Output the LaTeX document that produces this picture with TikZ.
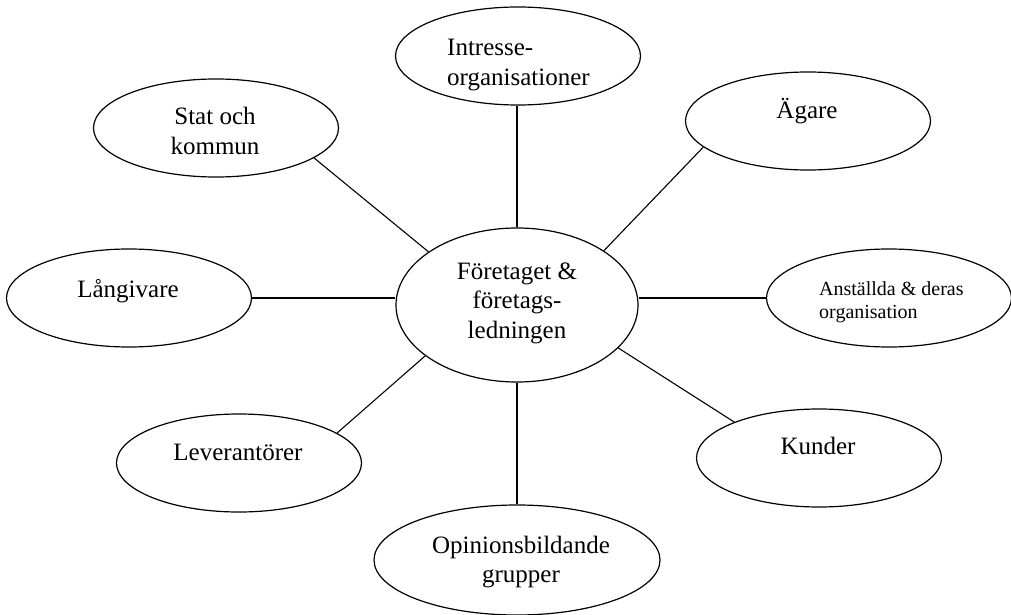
\documentclass[tikz,border=0pt]{standalone}
\usepackage{fontspec}
\setmainfont{Liberation Serif}
\usetikzlibrary{shapes.geometric}
\begin{document}
\begin{tikzpicture}[x=1pt,y=-1pt,
  oval/.style={ellipse,draw,line width=1.2pt,inner sep=0pt,
    minimum width=245pt,minimum height=98pt},
  hub/.style={ellipse,draw,line width=1.2pt,inner sep=0pt,
    minimum width=242pt,minimum height=154pt},
  txt/.style={inner sep=0pt,font=\fontsize{25}{29.5}\selectfont,align=center},
  small/.style={inner sep=0pt,font=\fontsize{20}{23}\selectfont,align=left},
  link/.style={line width=1.1pt}]
\useasboundingbox (0,0) rectangle (1011,615);

% ellipses
\node[hub]  (c)  at (517,305) {};
\node[oval] (io) at (518,56)  {};
\node[oval] (sk) at (216,128) {};
\node[oval] (ag) at (808,121) {};
\node[oval] (lg) at (129,298) {};
\node[oval] (an) at (889,298) {};
\node[oval] (lv) at (239,463) {};
\node[oval] (ku) at (819,458) {};
\node[oval,minimum width=286pt,minimum height=110pt] (op) at (517,560) {};

% labels
\node[txt] (tc)  at (517,303) {Företaget \&\\företags-\\ledningen};
\node[txt,align=left,anchor=west] (tio) at (447,65) {Intresse-\\organisationer};
\node[txt] (tsk) at (215,131) {Stat och\\kommun};
\node[txt,anchor=base] (tag) at (807,119) {Ägare};
\node[txt,anchor=base] (tlg) at (128,297) {Långivare};
\node[small,anchor=west] (tan) at (819,302) {Anställda \& deras\\organisation};
\node[txt,anchor=base] (tlv) at (238,460) {Leverantörer};
\node[txt,anchor=base] (tku) at (818,454) {Kunder};
\node[txt] (top) at (521,562) {Opinionsbildande\\grupper};

% connectors
\draw[link] (c.north) -- (c.north |- io.south);
\draw[link] (c.south) -- (c.south |- op.north);
\draw[link] (lg.east) -- (lg.east -| c.west);
\draw[link] (an.west) -- (an.west -| c.east);
\draw[link] (c.149.5) -- (sk.-17);
\draw[link] (c.32.6) -- (ag.194.4);
\draw[link] (c.209.5) -- (lv.17.9);
\draw[link] (c.337) -- (ku.157.5);
\end{tikzpicture}
\end{document}
